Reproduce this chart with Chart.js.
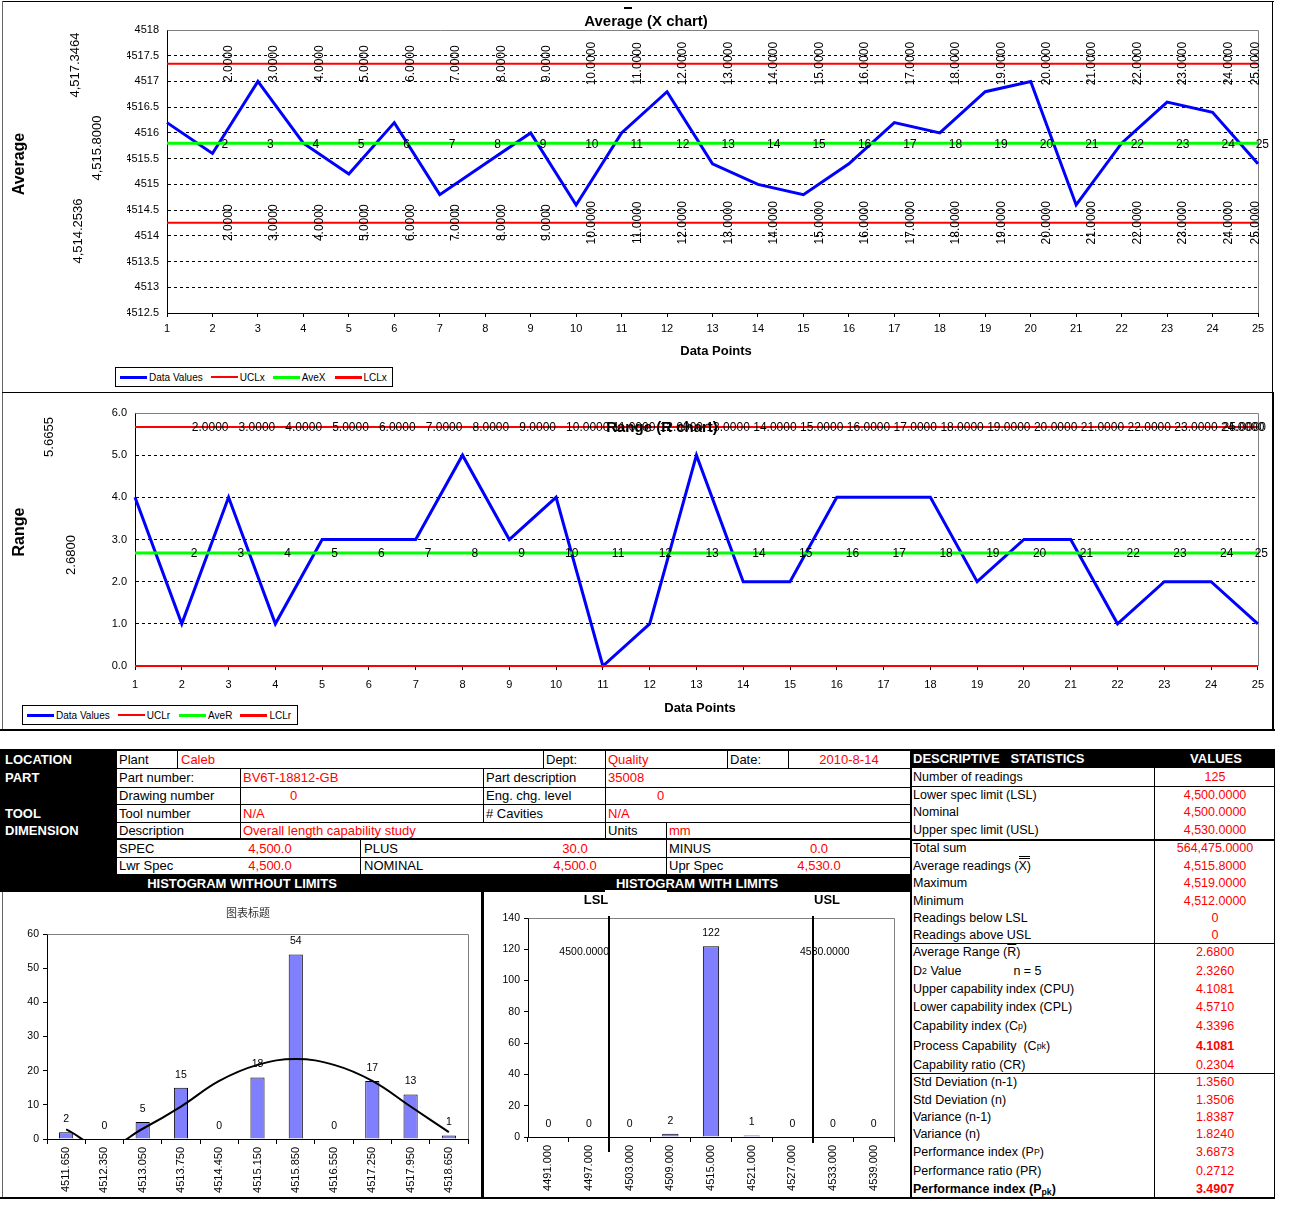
<!DOCTYPE html>
<html>
<head>
<meta charset="utf-8">
<title>Capability study</title>
<script src="https://cdn.jsdelivr.net/npm/chart.js@4.4.1/dist/chart.umd.min.js"></script>
<style>
  body { margin: 0; background: #fff; }
  #page { position: relative; width: 1292px; height: 1212px; overflow: hidden; font-family: "Liberation Sans", Arial, sans-serif; color: #000; }
  #page canvas { position: absolute; }
  .rot { position: absolute; white-space: nowrap; line-height: 1; transform: translate(-50%, -50%) rotate(-90deg); }
  .ctr { position: absolute; white-space: nowrap; line-height: 1; transform: translate(-50%, -50%); }
  .legend { position: absolute; border: 1px solid #000; box-sizing: border-box; display: flex; align-items: center; font-size: 10px; background: #fff; white-space: nowrap; overflow: hidden; }
  .legend span { flex: none; }
  .legend .sw { display: inline-block; width: 27px; margin-right: 2px; }
  .red { color: #ff0000; }
  sub { font-size: 70%; vertical-align: -2px; line-height: 0; }
  .ov { text-decoration: overline; }
  .dbar { position: relative; }
  .dbar::before { content: ""; position: absolute; left: 1px; right: -3px; top: -3px; border-top: 3px double #000; }
</style>
</head>
<body>
<div id="page">
  <canvas id="xChart" width="1272" height="392" style="left:0;top:0;"></canvas>
  <canvas id="rChart" width="1272" height="338" style="left:0;top:393px;"></canvas>
  <canvas id="hist1" width="479" height="306" style="left:3px;top:892px;"></canvas>
  <canvas id="hist2" width="424" height="306" style="left:485px;top:892px;"></canvas>
</div>
<script>
// ---- data ----
const POINTS = ['1','2','3','4','5','6','7','8','9','10','11','12','13','14','15','16','17','18','19','20','21','22','23','24','25'];
const AVERAGES = [4516.2, 4515.6, 4517.0, 4515.8, 4515.2, 4516.2, 4514.8, 4515.4, 4516.0, 4514.6,
                  4516.0, 4516.8, 4515.4, 4515.0, 4514.8, 4515.4, 4516.2, 4516.0, 4516.8, 4517.0,
                  4514.6, 4515.8, 4516.6, 4516.4, 4515.4];
const RANGES = [4, 1, 4, 1, 3, 3, 3, 5, 3, 4, 0, 1, 5, 2, 2, 4, 4, 4, 2, 3, 3, 1, 2, 2, 1];
const UCL_X = 4517.3464, AVE_X = 4515.8, LCL_X = 4514.2536;
const UCL_R = 5.6655, AVE_R = 2.68, LCL_R = 0;
const X_SERIES = ['Data Values', 'UCLx', 'AveX', 'LCLx'];
const R_SERIES = ['Data Values', 'UCLr', 'AveR', 'LCLr'];

const HIST1_BINS = ['4511.650','4512.350','4513.050','4513.750','4514.450','4515.150','4515.850','4516.550','4517.250','4517.950','4518.650'];
const HIST1_COUNTS = [2, 0, 5, 15, 0, 18, 54, 0, 17, 13, 1];
const HIST1_CURVE = [2.8, -2.5, 3, 9.5, 17, 21.7, 23.4, 21.7, 17, 9.5, 2];
const HIST2_BINS = ['4491.000','4497.000','4503.000','4509.000','4515.000','4521.000','4527.000','4533.000','4539.000'];
const HIST2_COUNTS = [0, 0, 0, 2, 122, 1, 0, 0, 0];
const LSL = 4500, USL = 4530;

const STAT_LABELS = [
  'Number of readings', 'Lower spec limit (LSL)', 'Nominal', 'Upper spec limit (USL)',
  'Total sum', 'Average readings ( <span class="dbar">X</span>)', 'Maximum', 'Minimum',
  'Readings below LSL', 'Readings above USL', 'Average Range (<span class="ov">R</span>)',
  'D<sub>2</sub>&nbsp;Value<span style="display:inline-block;width:52px"></span>n = 5',
  'Upper capability index (CPU)', 'Lower capability index (CPL)', 'Capability index (C<sub>p</sub>)',
  'Process Capability &nbsp;(C<sub>pk</sub>)', 'Capability ratio (CR)', 'Std Deviation (n-1)',
  'Std Deviation (n)', 'Variance (n-1)', 'Variance (n)', 'Performance index (P<sub>P</sub>)',
  'Performance ratio (PR)', '<b>Performance index (P<sub>pk</sub>)</b>'
];
const STAT_VALUES = ['125', '4,500.0000', '4,500.0000', '4,530.0000', '564,475.0000', '4,515.8000',
  '4,519.0000', '4,512.0000', '0', '0', '2.6800', '2.3260', '4.1081', '4.5710', '4.3396',
  '<b>4.1081</b>', '0.2304', '1.3560', '1.3506', '1.8387', '1.8240', '3.6873', '0.2712', '<b>3.4907</b>'];

// ---- layout helpers ----
const page = document.getElementById('page');
function add(css, html, cls) {
  const d = document.createElement('div');
  d.style.cssText = css;
  if (cls) d.className = cls;
  if (html != null) d.innerHTML = html;
  page.appendChild(d);
  return d;
}
function hl(x1, x2, y, t, c) { add(`position:absolute;left:${x1}px;top:${y}px;width:${x2 - x1}px;height:${t || 1}px;background:${c || '#000'}`); }
function vl(x, y1, y2, t, c) { add(`position:absolute;left:${x}px;top:${y1}px;width:${t || 1}px;height:${y2 - y1}px;background:${c || '#000'}`); }
function box(x1, y1, x2, y2, c) { add(`position:absolute;left:${x1}px;top:${y1}px;width:${x2 - x1}px;height:${y2 - y1}px;background:${c}`); }
function cell(x, y, w, h, html, extra) {
  add(`position:absolute;left:${x}px;top:${y}px;width:${w}px;height:${h}px;display:flex;align-items:center;white-space:nowrap;font-size:13px;${extra || ''}`, html);
}
function ctext(cx, y, h, html, extra) { cell(cx - 60, y, 120, h, html, 'justify-content:center;' + (extra || '')); }
function text(cx, cy, html, css, cls) { add(`left:${cx}px;top:${cy}px;${css || ''}`, html, cls || 'ctr'); }

function legend(x, y, w, h, names, colors, widths, gaps) {
  const lg = add(`left:${x}px;top:${y}px;width:${w}px;height:${h}px;padding-left:${gaps[0]}px`, '', 'legend');
  names.forEach((n, i) => {
    lg.insertAdjacentHTML('beforeend',
      `<span class="sw" style="height:${widths[i]}px;background:${colors[i]}"></span><span style="margin-right:${gaps[i + 1] || 0}px">${n}</span>`);
  });
}

// ---- chart helpers ----
Chart.defaults.font.family = '"Liberation Sans", Arial, sans-serif';
Chart.defaults.color = '#000';
const LABEL_FONT = '12px "Liberation Sans", Arial, sans-serif';
const HIST_FONT = '10.5px "Liberation Sans", Arial, sans-serif';

const plotBorder = {
  id: 'plotBorder',
  beforeDatasetsDraw(chart) {
    const { ctx, chartArea: a } = chart;
    const l = Math.round(a.left) + 0.5, t = Math.round(a.top) + 0.5, r = Math.round(a.right) + 0.5, b = Math.round(a.bottom);
    ctx.save();
    ctx.strokeStyle = '#808080';
    ctx.lineWidth = 1;
    ctx.beginPath();
    ctx.moveTo(l, t); ctx.lineTo(r, t); ctx.lineTo(r, b);
    ctx.stroke();
    ctx.restore();
  }
};

function lineOptions(yMin, yMax, yStep, fmt, pad, xH, yW, xPad) {
  return {
    responsive: false, animation: false, events: [], devicePixelRatio: 1,
    layout: { padding: pad },
    plugins: { legend: { display: false }, tooltip: { enabled: false } },
    elements: { point: { radius: 0 }, line: { tension: 0 } },
    scales: {
      x: {
        grid: { drawOnChartArea: false, drawTicks: true, tickLength: 4, color: '#000' },
        border: { color: '#000', width: 1 },
        ticks: { autoSkip: false, maxRotation: 0, padding: xPad, font: { size: 11 } },
        afterFit: s => { s.height = xH; }
      },
      y: {
        min: yMin, max: yMax,
        grid: { drawTicks: false, color: c => (c.tick && Math.abs(c.tick.value - yMax) < 1e-6) ? 'rgba(0,0,0,0)' : '#000' },
        border: { color: '#000', width: 1, dash: [3, 3] },
        ticks: { stepSize: yStep, padding: 8, font: { size: 11 }, callback: fmt },
        afterFit: s => { s.width = yW; }
      }
    }
  };
}

function histOptions(yMax, yStep, pad, xH, yW) {
  return {
    responsive: false, animation: false, events: [], devicePixelRatio: 1,
    layout: { padding: pad },
    plugins: { legend: { display: false }, tooltip: { enabled: false } },
    scales: {
      x: {
        offset: true,
        grid: { offset: true, drawOnChartArea: false, drawTicks: true, tickLength: 5, color: '#000' },
        border: { color: '#000', width: 1 },
        ticks: { autoSkip: false, minRotation: 90, maxRotation: 90, padding: 3, font: { size: 11 } },
        afterFit: s => { s.height = xH; }
      },
      y: {
        min: 0, max: yMax,
        grid: { drawOnChartArea: false, drawTicks: true, tickLength: 4, color: '#000' },
        border: { color: '#000', width: 1 },
        ticks: { stepSize: yStep, padding: 4, font: { size: 10.5 } },
        afterFit: s => { s.width = yW; }
      }
    }
  };
}

function controlSets(names, values, ucl, ave, lcl) {
  return [
    { label: names[0], data: values, borderColor: '#0000ff', borderWidth: 3, order: 4, clip: 4 },
    { label: names[1], data: POINTS.map(() => ucl), borderColor: '#ff0000', borderWidth: 2, order: 3, clip: 4 },
    { label: names[2], data: POINTS.map(() => ave), borderColor: '#00ff00', borderWidth: 3, order: 2, clip: 4 },
    { label: names[3], data: POINTS.map(() => lcl), borderColor: '#ff0000', borderWidth: 2, order: 1, clip: 4 }
  ];
}

// labels sitting on the control lines
const xChartLabels = {
  id: 'xChartLabels',
  afterDatasetsDraw(chart) {
    const { ctx, chartArea } = chart;
    ctx.save();
    ctx.font = LABEL_FONT;
    ctx.fillStyle = '#000';
    [1, 3].forEach(di => {
      chart.getDatasetMeta(di).data.forEach((pt, i) => {
        if (i === 0) return;
        ctx.save();
        ctx.translate(Math.min(pt.x + 16, chartArea.right - 2), pt.y);
        ctx.rotate(-Math.PI / 2);
        ctx.textAlign = 'center';
        ctx.textBaseline = 'middle';
        ctx.fillText(Number(POINTS[i]).toFixed(4), 0, 0);
        ctx.restore();
      });
    });
    ctx.textAlign = 'left';
    ctx.textBaseline = 'middle';
    chart.getDatasetMeta(2).data.forEach((pt, i) => {
      if (i === 0) return;
      const w = ctx.measureText(POINTS[i]).width;
      ctx.fillText(POINTS[i], Math.min(pt.x + 9, chart.width - 3 - w), pt.y + 1);
    });
    ctx.restore();
  }
};

const rChartLabels = {
  id: 'rChartLabels',
  afterDatasetsDraw(chart) {
    const { ctx } = chart;
    ctx.save();
    ctx.font = LABEL_FONT;
    ctx.fillStyle = '#000';
    ctx.textAlign = 'left';
    ctx.textBaseline = 'middle';
    chart.getDatasetMeta(1).data.forEach((pt, i) => {
      if (i === 0) return;
      const t = Number(POINTS[i]).toFixed(4);
      const w = ctx.measureText(t).width;
      ctx.fillText(t, Math.min(pt.x + 10, chart.width - 6 - w), pt.y + 1);
    });
    chart.getDatasetMeta(2).data.forEach((pt, i) => {
      if (i === 0) return;
      const w = ctx.measureText(POINTS[i]).width;
      ctx.fillText(POINTS[i], Math.min(pt.x + 9, chart.width - 4 - w), pt.y + 1);
    });
    ctx.restore();
  }
};

const barValueLabels = {
  id: 'barValueLabels',
  afterDatasetsDraw(chart) {
    const { ctx } = chart;
    ctx.save();
    ctx.font = HIST_FONT;
    ctx.fillStyle = '#000';
    ctx.textAlign = 'center';
    ctx.textBaseline = 'middle';
    chart.data.datasets.forEach((d, di) => {
      if (d.type === 'line') return;
      chart.getDatasetMeta(di).data.forEach((bar, i) => ctx.fillText(String(d.data[i]), bar.x, bar.y - 13));
    });
    ctx.restore();
  }
};

const specLines = {
  id: 'specLines',
  afterDatasetsDraw(chart) {
    const { ctx, chartArea: a, scales: { x } } = chart;
    const start = parseFloat(HIST2_BINS[0]);
    const step = parseFloat(HIST2_BINS[1]) - start;
    const marks = [
      { v: LSL, name: 'LSL', below: 15, nameDx: -13, align: 'right', dx: 0 },
      { v: USL, name: 'USL', below: 6, nameDx: 14, align: 'left', dx: -13 }
    ];
    ctx.save();
    marks.forEach(m => {
      const px = Math.round(x.getPixelForValue((m.v - start) / step));
      ctx.strokeStyle = '#000';
      ctx.lineWidth = 2;
      ctx.beginPath();
      ctx.moveTo(px, a.top - 2);
      ctx.lineTo(px, a.bottom + m.below);
      ctx.stroke();
      ctx.fillStyle = '#000';
      ctx.textBaseline = 'middle';
      ctx.font = HIST_FONT;
      ctx.textAlign = m.align;
      ctx.fillText(m.v.toFixed(4), px + m.dx, a.top + 34);
      ctx.font = 'bold 13px "Liberation Sans", Arial, sans-serif';
      ctx.textAlign = 'center';
      ctx.fillText(m.name, px + m.nameDx, a.top - 18);
    });
    ctx.restore();
  }
};

// ---- charts ----
new Chart(document.getElementById('xChart'), {
  type: 'line',
  data: { labels: POINTS, datasets: controlSets(X_SERIES, AVERAGES, UCL_X, AVE_X, LCL_X) },
  options: lineOptions(4512.5, 4518, 0.5, v => String(parseFloat(Number(v).toFixed(2))),
    { left: 127, top: 30, right: 14, bottom: 49 }, 30, 40, 5),
  plugins: [plotBorder, xChartLabels]
});

new Chart(document.getElementById('rChart'), {
  type: 'line',
  data: { labels: POINTS, datasets: controlSets(R_SERIES, RANGES, UCL_R, AVE_R, LCL_R) },
  options: lineOptions(0, 6, 1, v => Number(v).toFixed(1),
    { left: 95, top: 20, right: 13, bottom: 35 }, 30, 40, 8),
  plugins: [plotBorder, rChartLabels]
});

new Chart(document.getElementById('hist1'), {
  type: 'bar',
  data: {
    labels: HIST1_BINS,
    datasets: [
      { type: 'line', label: 'Normal', data: HIST1_CURVE, borderColor: '#000', borderWidth: 2, pointRadius: 0, tension: 0.4, capBezierPoints: false, order: 0 },
      { label: 'Count', data: HIST1_COUNTS, backgroundColor: '#8080ff', borderColor: '#000', borderWidth: 1, barPercentage: 0.37, categoryPercentage: 1, order: 1 }
    ]
  },
  options: histOptions(60, 10, { left: 0, top: 42, right: 14, bottom: 0 }, 59, 44),
  plugins: [plotBorder, barValueLabels]
});

new Chart(document.getElementById('hist2'), {
  type: 'bar',
  data: {
    labels: HIST2_BINS,
    datasets: [
      { label: 'Count', data: HIST2_COUNTS, backgroundColor: '#8080ff', borderColor: '#000', borderWidth: 1, barPercentage: 0.4, categoryPercentage: 1 }
    ]
  },
  options: histOptions(140, 20, { left: 0, top: 26, right: 15, bottom: 0 }, 61, 43),
  plugins: [plotBorder, barValueLabels, specLines]
});

// ---- chart frames and captions ----
hl(2, 1274, 1, 1); vl(2, 1, 393, 1, '#666'); vl(1272, 1, 393, 1); hl(2, 1274, 392, 1);
vl(2, 393, 731, 1, '#666'); vl(1272, 393, 731, 2); hl(0, 1275, 729, 2);

text(646, 20, 'Average (X chart)', 'font-size:15px;font-weight:bold');
hl(624, 632, 7, 2);
text(716, 350, 'Data Points', 'font-size:13px;font-weight:bold');
text(19, 164, 'Average', 'font-size:16px;font-weight:bold', 'rot');
text(74, 65, '4,517.3464', 'font-size:13px', 'rot');
text(96, 148, '4,515.8000', 'font-size:13px', 'rot');
text(77, 231, '4,514.2536', 'font-size:13px', 'rot');
legend(115, 367, 278, 20, X_SERIES, ['#0000ff', '#ff0000', '#00ff00', '#ff0000'], [3, 2, 3, 3], [4, 8, 8, 9, 0]);

text(662, 426, 'Range (R chart)', 'font-size:15px;font-weight:bold');
text(700, 707, 'Data Points', 'font-size:13px;font-weight:bold');
text(19, 532, 'Range', 'font-size:16px;font-weight:bold', 'rot');
text(48, 437, '5.6655', 'font-size:13px', 'rot');
text(70, 555, '2.6800', 'font-size:13px', 'rot');
legend(22, 705, 276, 20, R_SERIES, ['#0000ff', '#ff0000', '#00ff00', '#ff0000'], [3, 2, 3, 3], [4, 8, 9, 8, 0]);

// ---- information grid ----
box(0, 749, 1274, 751, '#000');
box(0, 749, 117, 892, '#000');
box(0, 874, 910, 892, '#000');
const W = 'color:#fff;font-weight:bold;';
cell(5, 750, 110, 18, 'LOCATION', W);
cell(5, 768, 110, 19, 'PART', W);
cell(5, 804, 110, 18, 'TOOL', W);
cell(5, 822, 110, 17, 'DIMENSION', W);

[768, 787, 804, 822, 857].forEach(y => hl(117, 911, y, 1));
hl(117, 911, 838, 2);
[177, 543, 605, 727, 788].forEach(x => vl(x, 750, 768));
[240, 483, 605].forEach(x => vl(x, 768, 822));
[240, 605, 666].forEach(x => vl(x, 822, 839));
[360, 666].forEach(x => vl(x, 839, 874));

const R = 'color:#ff0000;';
cell(119, 750, 58, 18, 'Plant'); cell(181, 750, 300, 18, 'Caleb', R);
cell(546, 750, 58, 18, 'Dept:'); cell(608, 750, 110, 18, 'Quality', R);
cell(730, 750, 58, 18, 'Date:'); ctext(849, 750, 18, '2010-8-14', R);
cell(119, 768, 120, 19, 'Part number:'); cell(243, 768, 230, 19, 'BV6T-18812-GB', R);
cell(486, 768, 118, 19, 'Part description'); cell(608, 768, 200, 19, '35008', R);
cell(119, 787, 120, 17, 'Drawing number'); cell(290, 787, 40, 17, '0', R);
cell(486, 787, 118, 17, 'Eng. chg. level'); cell(657, 787, 40, 17, '0', R);
cell(119, 804, 120, 18, 'Tool number'); cell(243, 804, 200, 18, 'N/A', R);
cell(486, 804, 118, 18, '# Cavities'); cell(608, 804, 200, 18, 'N/A', R);
cell(119, 822, 120, 17, 'Description'); cell(243, 822, 350, 17, 'Overall length capability study', R);
cell(608, 822, 58, 17, 'Units'); cell(669, 822, 200, 17, 'mm', R);
cell(119, 839, 100, 18, 'SPEC'); ctext(270, 839, 18, '4,500.0', R);
cell(364, 839, 100, 18, 'PLUS'); ctext(575, 839, 18, '30.0', R);
cell(669, 839, 100, 18, 'MINUS'); ctext(819, 839, 18, '0.0', R);
cell(119, 857, 100, 17, 'Lwr Spec'); ctext(270, 857, 17, '4,500.0', R);
cell(364, 857, 100, 17, 'NOMINAL'); ctext(575, 857, 17, '4,500.0', R);
cell(669, 857, 100, 17, 'Upr Spec'); ctext(819, 857, 17, '4,530.0', R);

ctext(242, 874, 18, 'HISTOGRAM WITHOUT LIMITS', W);
ctext(697, 874, 18, 'HISTOGRAM WITH LIMITS', W);
hl(605, 667, 890, 2, '#fff');

// ---- histogram frames ----
vl(2, 892, 1198, 1, '#666');
vl(481, 892, 1199, 3);
hl(0, 911, 1197, 2);
text(248, 912, '图表标题', 'font-size:11px;color:#333;font-family:"Noto Sans CJK SC",sans-serif');

// ---- descriptive statistics ----
const STAT_ROW_H = [18, 17, 18, 18, 18, 17, 18, 17, 17, 17, 18, 19, 18, 18, 19, 22, 16, 18, 17, 17, 17, 20, 18, 18];
const STAT_RULES = [0, 3, 9, 16];
box(911, 749, 1275, 768, '#000');
cell(913, 749, 240, 19, 'DESCRIPTIVE&nbsp;&nbsp; STATISTICS', W);
ctext(1216, 749, 19, 'VALUES', W);
let sy = 768;
STAT_LABELS.forEach((lab, i) => {
  const h = STAT_ROW_H[i];
  cell(913, sy, 240, h, lab, 'font-size:12.5px');
  ctext(1215, sy, h, STAT_VALUES[i], R + 'font-size:12.5px');
  sy += h;
  if (STAT_RULES.includes(i)) hl(911, 1275, sy, i === 3 ? 2 : 1);
});
vl(910, 749, 1199, 2);
vl(1154, 768, 1198);
vl(1274, 749, 1199);
hl(911, 1275, 1197, 2);
</script>
</body>
</html>
